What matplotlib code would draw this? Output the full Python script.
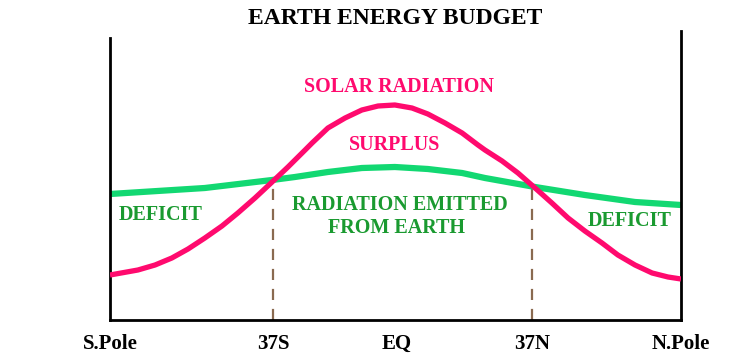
import matplotlib.pyplot as plt

# latitude-like x positions (S.Pole = -90, N.Pole = 90), energy in arbitrary units
solar_x = [-90, -81.2, -75.8, -70.5, -65.4, -60.1, -54.7, -49.7, -44.3, -38.9, -33.9, -28.5,
           -26.3, -21.3, -15.9, -10.6, -5.5, -0.2, 5.2, 10.2, 15.6, 21.0, 26.0, 28.2, 33.6,
           38.6, 44.0, 49.3, 54.4, 59.7, 65.1, 70.1, 75.5, 80.9, 85.9, 90]
solar_y = [45, 50, 55, 62, 71, 82, 94, 107, 122, 138, 153, 170,
           177, 192, 202, 210, 214, 215, 212, 206, 197, 187, 175, 170, 159,
           147, 132, 117, 102, 89, 77, 65, 55, 47, 43, 41]

earth_x = [-90, -60.1, -38.9, -31.7, -21.3, -10.6, -0.2, 10.2, 21.0, 28.2, 44.0, 59.7, 75.5, 90]
earth_y = [126, 132, 140, 143, 148, 152, 153, 151, 147, 142, 133, 125, 118, 115]

tick_pos = [-90, -38.6, 0.5, 43.0, 90]
tick_labels = ["S.Pole", "37S", "EQ", "37N", "N.Pole"]
cross_y = [139, 134]  # where the two curves meet at 37S / 37N

pink = "#ff0a6e"
green_line = "#12d872"
green_text = "#1a9a30"
serif = "Liberation Serif"

fig = plt.figure(figsize=(7.42, 3.58), dpi=100)
ax = fig.add_axes([110/742, 38/358, 571/742, 289/358])
ax.set_xlim(-90, 90)
ax.set_ylim(0, 289)

ax.plot(earth_x, earth_y, color=green_line, lw=4.5, solid_capstyle="butt", zorder=2)
ax.plot(solar_x, solar_y, color=pink, lw=3.8, solid_capstyle="butt", zorder=3)

# dashed drop lines at the crossing latitudes
ax.vlines([tick_pos[1], tick_pos[3]], 0, cross_y, colors="#8a6a50", linestyles=(0, (5, 4)), lw=1.6, zorder=1)

ax.spines["top"].set_visible(False)
ax.spines["left"].set_bounds(0, 282)
for s in ["left", "right", "bottom"]:
    ax.spines[s].set_linewidth(2)

ax.set_yticks([])
ax.set_xticks(tick_pos)
ax.set_xticklabels(tick_labels, fontfamily=serif, fontweight="bold", fontsize=15)
ax.tick_params(axis="x", length=0, pad=10)

fig.text(0.532, 0.947, "EARTH ENERGY BUDGET", ha="center", va="center",
         fontfamily=serif, fontweight="bold", fontsize=17)

def lbl(px, py, s, c):
    fig.text(px/742, 1 - py/358, s, ha="center", va="center", color=c,
             fontfamily=serif, fontweight="bold", fontsize=14.5)

lbl(399, 87, "SOLAR RADIATION", pink)
lbl(395, 145, "SURPLUS", pink)
lbl(400, 205, "RADIATION EMITTED", green_text)
lbl(396, 228, "FROM EARTH", green_text)
lbl(161, 215, "DEFICIT", green_text)
lbl(630, 221, "DEFICIT", green_text)

fig.savefig("out.png", dpi=100)
